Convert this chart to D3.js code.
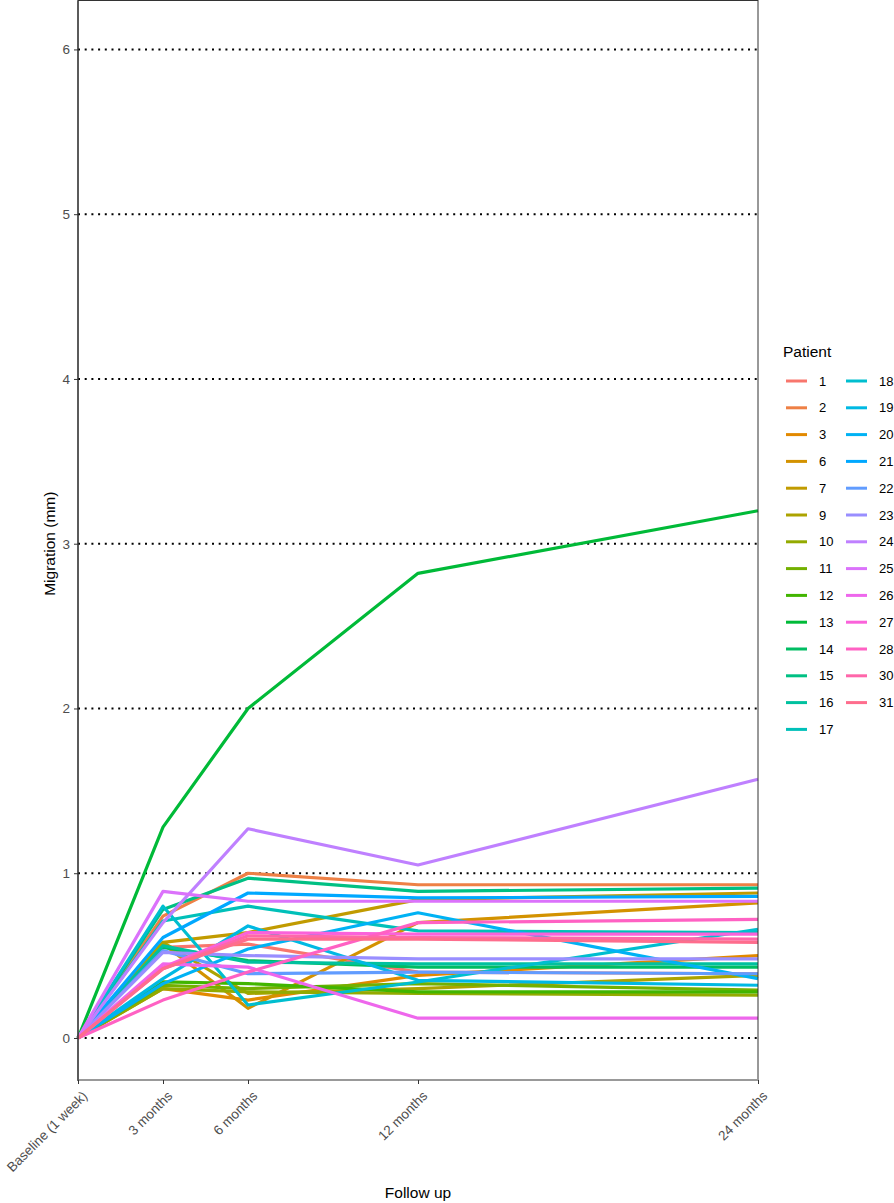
<!DOCTYPE html>
<html><head><meta charset="utf-8">
<script src="https://cdn.jsdelivr.net/npm/d3@7"></script>
<style>body{margin:0;background:#fff}svg{display:block;font-family:Arial,"Liberation Sans",sans-serif}</style>
</head><body><svg id="c" width="894" height="1203"></svg>
<script>
const timeLabels = ["Baseline (1 week)", "3 months", "6 months", "12 months", "24 months"];
const timeMonths = [0, 3, 6, 12, 24];
const patients = ["1","2","3","6","7","9","10","11","12","13","14","15","16","17","18","19","20","21","22","23","24","25","26","27","28","30","31"];
const yTicks = [0, 1, 2, 3, 4, 5, 6];
// migration (mm) at each follow-up, one array per patient
const p1  = [0, 0.55, 0.57, 0.40, 0.39];
const p2  = [0, 0.74, 1.00, 0.93, 0.93];
const p3  = [0, 0.30, 0.23, 0.38, 0.50];
const p6  = [0, 0.57, 0.18, 0.70, 0.82];
const p7  = [0, 0.58, 0.64, 0.84, 0.88];
const p9  = [0, 0.58, 0.27, 0.30, 0.38];
const p10 = [0, 0.30, 0.28, 0.27, 0.26];
const p11 = [0, 0.32, 0.30, 0.33, 0.29];
const p12 = [0, 0.34, 0.33, 0.28, 0.28];
const p13 = [0, 1.28, 2.00, 2.82, 3.20];
const p14 = [0, 0.55, 0.47, 0.43, 0.43];
const p15 = [0, 0.78, 0.97, 0.89, 0.91];
const p16 = [0, 0.56, 0.46, 0.45, 0.45];
const p17 = [0, 0.71, 0.80, 0.65, 0.64];
const p18 = [0, 0.80, 0.20, 0.34, 0.66];
const p19 = [0, 0.36, 0.68, 0.35, 0.32];
const p20 = [0, 0.33, 0.54, 0.76, 0.36];
const p21 = [0, 0.61, 0.88, 0.85, 0.86];
const p22 = [0, 0.53, 0.39, 0.40, 0.39];
const p23 = [0, 0.52, 0.50, 0.48, 0.48];
const p24 = [0, 0.70, 1.27, 1.05, 1.57];
const p25 = [0, 0.89, 0.83, 0.83, 0.83];
const p26 = [0, 0.45, 0.43, 0.12, 0.12];
const p27 = [0, 0.43, 0.64, 0.63, 0.63];
const p28 = [0, 0.23, 0.40, 0.70, 0.72];
const p30 = [0, 0.42, 0.62, 0.61, 0.60];
const p31 = [0, 0.42, 0.60, 0.60, 0.58];
const seriesValues = [p1,p2,p3,p6,p7,p9,p10,p11,p12,p13,p14,p15,p16,p17,p18,p19,p20,p21,p22,p23,p24,p25,p26,p27,p28,p30,p31];

// polar CIELUV (as R's hcl) -> sRGB hex
function hclLuv(h, c, l) {
  const Xn = 95.047, Yn = 100, Zn = 108.883;
  const un = 4 * Xn / (Xn + 15 * Yn + 3 * Zn), vn = 9 * Yn / (Xn + 15 * Yn + 3 * Zn);
  const hr = h * Math.PI / 180, u = c * Math.cos(hr), v = c * Math.sin(hr);
  const Y = l > 8 ? Yn * Math.pow((l + 16) / 116, 3) : Yn * l / 903.3;
  const up = u / (13 * l) + un, vp = v / (13 * l) + vn;
  const X = 9 * Y * up / (4 * vp), Z = -X / 3 - 5 * Y + 3 * Y / vp;
  const x = X / 100, y = Y / 100, z = Z / 100;
  const lin = [3.240479 * x - 1.53715 * y - 0.498535 * z,
               -0.969256 * x + 1.875992 * y + 0.041556 * z,
               0.055648 * x - 0.204043 * y + 1.057311 * z];
  const g = lin.map(t => { const s = t <= 0.0031308 ? 12.92 * t : 1.055 * Math.pow(t, 1 / 2.4) - 0.055; return Math.round(255 * Math.max(0, Math.min(1, s))); });
  return d3.rgb(g[0], g[1], g[2]).formatHex();
}

const svg = d3.select("#c");
const L = 78, R = 758, T = 0.5, B = 1080;
const x = d3.scaleLinear().domain([0, 24]).range([L, R]);
const y = d3.scaleLinear().domain([-0.255, 6.297]).range([B, T]);
const n = patients.length;
const color = d3.scaleOrdinal().domain(patients)
  .range(patients.map((p, i) => hclLuv(15 + i * 360 / n, 100, 65)));

// grid
svg.append("g").selectAll("line").data(yTicks).join("line")
  .attr("x1", L).attr("x2", R).attr("y1", d => y(d)).attr("y2", d => y(d))
  .attr("stroke", "#000").attr("stroke-width", 2).attr("stroke-dasharray", "2,4.7");

// lines
const line = d3.line().x((d, i) => x(timeMonths[i])).y(d => y(d));
svg.append("g").selectAll("path").data(seriesValues).join("path")
  .attr("d", d => line(d)).attr("fill", "none")
  .attr("stroke", (d, i) => color(patients[i])).attr("stroke-width", 3.2)
  .attr("stroke-linejoin", "round");

// panel border
svg.append("rect").attr("x", L).attr("y", T).attr("width", R - L).attr("height", B - T)
  .attr("fill", "none").attr("stroke", "#333").attr("stroke-width", 1);
svg.append("line").attr("x1", L).attr("x2", R).attr("y1", B).attr("y2", B)
  .attr("stroke", "#999").attr("stroke-width", 2);
svg.append("line").attr("x1", L).attr("x2", L).attr("y1", T).attr("y2", B + 1)
  .attr("stroke", "#333").attr("stroke-width", 1.2);

// y axis
const ya = svg.append("g").attr("transform", `translate(${L},0)`)
  .call(d3.axisLeft(y).tickValues(yTicks).tickSize(4).tickPadding(4).tickFormat(d3.format("d")));
ya.select(".domain").remove();
ya.selectAll("line").attr("stroke", "#333");
ya.selectAll("text").attr("font-size", 13.5).attr("fill", "#4d4d4d").attr("font-family", "Arial, Liberation Sans");

// x axis
const xa = svg.append("g").attr("transform", `translate(0,${B})`)
  .call(d3.axisBottom(x).tickValues(timeMonths).tickSize(4).tickFormat((d, i) => timeLabels[i]));
xa.select(".domain").remove();
xa.selectAll("line").attr("stroke", "#333");
xa.selectAll("text").attr("font-size", 13.5).attr("fill", "#4d4d4d").attr("font-family", "Arial, Liberation Sans")
  .attr("text-anchor", "end").attr("transform", "translate(3,10) rotate(-45)").attr("dy", "0.71em").attr("y", 0);

// titles
svg.append("text").attr("x", x(12)).attr("y", 1198).attr("text-anchor", "middle")
  .attr("font-size", 15.5).text("Follow up");
svg.append("text").attr("transform", `translate(55,${y(3)}) rotate(-90)`).attr("text-anchor", "middle")
  .attr("font-size", 15.5).text("Migration (mm)");

// legend
const lg = svg.append("g");
lg.append("text").attr("x", 783).attr("y", 357).attr("font-size", 15.5).text("Patient");
patients.forEach((p, i) => {
  const col = i < 14 ? 0 : 1, row = i < 14 ? i : i - 14;
  const cx = 786 + col * 60, cy = 381 + row * 26.8;
  lg.append("line").attr("x1", cx).attr("x2", cx + 21).attr("y1", cy).attr("y2", cy)
    .attr("stroke", color(p)).attr("stroke-width", 3);
  lg.append("text").attr("x", cx + 33).attr("y", cy).attr("dy", "0.35em")
    .attr("font-size", 13).text(p);
});
</script></body></html>
